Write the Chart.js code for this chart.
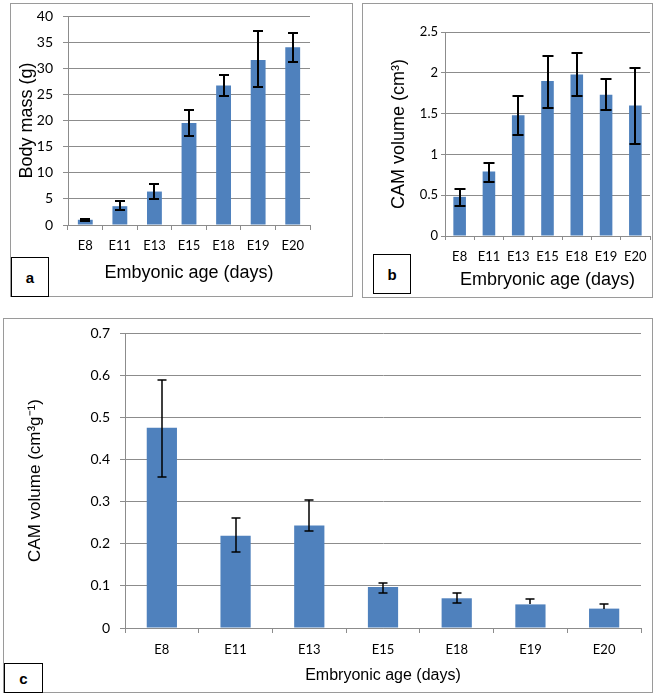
<!DOCTYPE html>
<html>
<head>
<meta charset="utf-8">
<script src="https://cdn.jsdelivr.net/npm/chart.js@4"></script>
<style>
body { margin: 0; background: #fff; width: 657px; height: 696px; position: relative; overflow: hidden; font-family: "Liberation Sans", Arial, sans-serif; }
.panel { position: absolute; }
.panel canvas { position: absolute; left: 0; top: 0; }
.frame { position: absolute; left: 0; top: 0; right: 0; bottom: 0; border: 1px solid #9a9a9a; pointer-events: none; }
.tag { position: absolute; box-sizing: border-box; border: 1.5px solid #000; background: #fff; font-weight: bold; font-size: 15px; display: flex; align-items: center; justify-content: center; }
</style>
</head>
<body>

<div class="panel" style="left:10px;top:3px;width:343px;height:294px">
  <canvas id="chartA" width="343" height="294"></canvas>
  <div class="frame"></div>
</div>
<div class="panel" style="left:362px;top:3px;width:291px;height:295px">
  <canvas id="chartB" width="291" height="295"></canvas>
  <div class="frame"></div>
</div>
<div class="panel" style="left:3px;top:318px;width:650px;height:375px">
  <canvas id="chartC" width="650" height="375"></canvas>
  <div class="frame"></div>
</div>

<div class="tag" style="left:11px;top:257px;width:38px;height:40px">a</div>
<div class="tag" style="left:373px;top:254px;width:38px;height:40px">b</div>
<div class="tag" style="left:4px;top:663px;width:39px;height:30px">c</div>

<script>
const categories = ['E8', 'E11', 'E13', 'E15', 'E18', 'E19', 'E20'];

// a: body mass (g)
const bodyMass = [1.0, 3.6, 6.4, 19.5, 26.7, 31.6, 34.0];
const bodyMassLow = [0.85, 2.9, 4.9, 17.0, 24.6, 26.4, 31.2];
const bodyMassHigh = [1.1, 4.5, 7.9, 22.0, 28.8, 37.2, 36.7];
const bodyMassTicks = [0, 5, 10, 15, 20, 25, 30, 35, 40];

// b: CAM volume (cm3)
const camVolume = [0.48, 0.79, 1.48, 1.90, 1.98, 1.73, 1.60];
const camVolumeLow = [0.37, 0.66, 1.24, 1.57, 1.71, 1.54, 1.13];
const camVolumeHigh = [0.58, 0.89, 1.71, 2.20, 2.24, 1.92, 2.06];
const camVolumeTicks = [0, 0.5, 1, 1.5, 2, 2.5];

// c: CAM volume per body mass (cm3 g-1); null = lower bar hidden in the column
const camPerMass = [0.475, 0.219, 0.243, 0.097, 0.0705, 0.056, 0.046];
const camPerMassLow = [0.359, 0.18, 0.231, 0.082, 0.059, null, null];
const camPerMassHigh = [0.588, 0.26, 0.304, 0.106, 0.082, 0.068, 0.058];
const camPerMassTicks = [0, 0.1, 0.2, 0.3, 0.4, 0.5, 0.6, 0.7];

const barColor = '#4f81bd';
const gridColor = '#8c8c8c';

const errorBars = {
    id: 'errorBars',
    afterDatasetsDraw(chart) {
        const ds = chart.data.datasets[0];
        const meta = chart.getDatasetMeta(0);
        const y = chart.scales.y;
        const ctx = chart.ctx;
        ctx.save();
        ctx.strokeStyle = '#000';
        ctx.lineWidth = ds.errWidth;
        meta.data.forEach((bar, i) => {
            const top = Math.round(y.getPixelForValue(ds.high[i]));
            const hasLow = ds.low[i] != null;
            const bottom = Math.round(y.getPixelForValue(hasLow ? ds.low[i] : ds.data[i]));
            const x = Math.round(bar.x);
            ctx.beginPath();
            ctx.moveTo(x, top);
            ctx.lineTo(x, bottom);
            ctx.moveTo(x - ds.cap, top);
            ctx.lineTo(x + ds.cap, top);
            if (hasLow) {
                ctx.moveTo(x - ds.cap, bottom);
                ctx.lineTo(x + ds.cap, bottom);
            }
            ctx.stroke();
        });
        ctx.restore();
    }
};

function buildChart(id, c) {
    new Chart(document.getElementById(id), {
        type: 'bar',
        data: {
            labels: categories,
            datasets: [{
                data: c.values,
                low: c.low,
                high: c.high,
                cap: c.cap,
                errWidth: c.errWidth,
                backgroundColor: barColor,
                categoryPercentage: 1,
                barPercentage: c.barPct
            }]
        },
        options: {
            responsive: false,
            animation: false,
            layout: { padding: { top: c.top, right: c.right, left: 0, bottom: 0 } },
            plugins: { legend: { display: false }, tooltip: { enabled: false } },
            scales: {
                x: {
                    grid: { drawOnChartArea: false, drawTicks: true, tickLength: c.xTick, color: gridColor, offset: true },
                    border: { color: gridColor },
                    ticks: { font: c.xTickFont, color: '#000', padding: c.xTickPad, maxRotation: 0, autoSkip: false },
                    title: { display: true, text: c.xTitle, font: c.xTitleFont, color: '#000', padding: { top: 0, bottom: c.xTitlePad } },
                    afterFit: s => { s.height = c.xHeight; s.paddingLeft = 0; s.paddingRight = 0; }
                },
                y: {
                    min: 0,
                    max: c.ticks[c.ticks.length - 1],
                    afterBuildTicks: s => { s.ticks = c.ticks.map(v => ({ value: v })); },
                    ticks: { callback: v => String(v), font: c.yTickFont, color: '#000', padding: c.yTickPad },
                    grid: { color: gridColor, tickLength: c.yTick },
                    border: { color: gridColor },
                    title: { display: true, text: c.yTitle, font: c.yTitleFont, color: '#000', padding: { top: c.yTitlePad, bottom: 0 } },
                    afterFit: s => { s.width = c.yWidth; s.paddingTop = 0; s.paddingBottom = 0; }
                }
            }
        },
        plugins: [errorBars]
    });
}

const arial = 'Liberation Sans, Arial, sans-serif';
const tickFace = 'Lato, Carlito, sans-serif';

buildChart('chartA', {
    values: bodyMass, low: bodyMassLow, high: bodyMassHigh, ticks: bodyMassTicks,
    cap: 5, errWidth: 2, barPct: 0.43,
    top: 13, right: 43, yWidth: 58, xHeight: 72,
    xTick: 5, xTickPad: 8, yTick: 5, yTickPad: 10,
    xTickFont: { family: tickFace, size: 13 }, yTickFont: { family: tickFace, size: 14 },
    xTitle: 'Embyonic age (days)', xTitleFont: { family: arial, size: 18 }, xTitlePad: 13,
    yTitle: 'Body mass (g)', yTitleFont: { family: arial, size: 18 }, yTitlePad: 6
});

buildChart('chartB', {
    values: camVolume, low: camVolumeLow, high: camVolumeHigh, ticks: camVolumeTicks,
    cap: 5.5, errWidth: 2, barPct: 0.43,
    top: 29, right: 3, yWidth: 83, xHeight: 62,
    xTick: 4, xTickPad: 9, yTick: 4, yTickPad: 3,
    xTickFont: { family: tickFace, size: 13 }, yTickFont: { family: tickFace, size: 13 },
    xTitle: 'Embryonic age (days)', xTitleFont: { family: arial, size: 18 }, xTitlePad: 7,
    yTitle: 'CAM volume (cm³)', yTitleFont: { family: arial, size: 18 }, yTitlePad: 26
});

buildChart('chartC', {
    values: camPerMass, low: camPerMassLow, high: camPerMassHigh, ticks: camPerMassTicks,
    cap: 4.5, errWidth: 1.5, barPct: 0.41,
    top: 15, right: 12, yWidth: 122, xHeight: 65,
    xTick: 5, xTickPad: 9, yTick: 5, yTickPad: 10,
    xTickFont: { family: tickFace, size: 13 }, yTickFont: { family: tickFace, size: 14 },
    xTitle: 'Embryonic age (days)', xTitleFont: { family: arial, size: 16 }, xTitlePad: 8,
    yTitle: 'CAM volume (cm³g⁻¹)', yTitleFont: { family: arial, size: 17 }, yTitlePad: 22
});
</script>
</body>
</html>
